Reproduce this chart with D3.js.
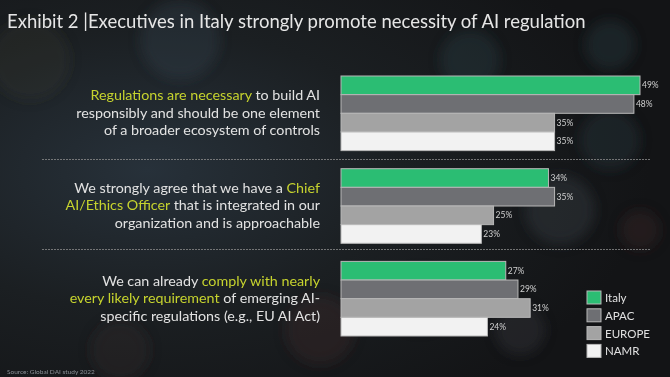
<!DOCTYPE html>
<html><head><meta charset="utf-8">
<script src="https://cdn.jsdelivr.net/npm/d3@7"></script>
<style>html,body{margin:0;padding:0;background:#16181a;}svg{display:block;}</style>
</head><body><svg id="c" width="670" height="377"></svg>
<script>
const title = "Exhibit 2 |Executives in Italy strongly promote necessity of AI regulation";
const source = "Source: Global DAI study 2022";
const categories = ["Regulations necessary", "Chief AI/Ethics Officer", "Comply with requirements"];
const seriesNames = ["Italy", "APAC", "EUROPE", "NAMR"];
const italy = [49, 34, 27];
const apac = [48, 35, 29];
const europe = [35, 25, 31];
const namr = [35, 23, 24];
const seriesColors = ["#2bbd73", "#6e6f73", "#a3a3a3", "#f2f2f2"];
// label lines: [text, highlighted?]
const labelLines = [
  [[["Regulations are necessary", true], [" to build AI", false]],
   [["responsibly and should be one element", false]],
   [["of a broader ecosystem of controls", false]]],
  [[["We strongly agree that we have a ", false], ["Chief", true]],
   [["AI/Ethics Officer", true], [" that is integrated in our", false]],
   [["organization and is approachable", false]]],
  [[["We can already ", false], ["comply with nearly", true]],
   [["every likely requirement", true], [" of emerging AI-", false]],
   [["specific regulations (e.g., EU AI Act)", false]]]
];
const values = [italy, apac, europe, namr];

const svg = d3.select("#c");
const W = 670, H = 377;
const defs = svg.append("defs");
const bg = defs.append("radialGradient").attr("id","bg").attr("cx","22%").attr("cy","45%").attr("r","75%");
bg.append("stop").attr("offset","0%").attr("stop-color","#27313a");
bg.append("stop").attr("offset","50%").attr("stop-color","#1b1f22");
bg.append("stop").attr("offset","100%").attr("stop-color","#131416");
svg.append("rect").attr("width",W).attr("height",H).attr("fill","url(#bg)");
const blur = defs.append("filter").attr("id","blur").attr("x","-50%").attr("y","-50%").attr("width","200%").attr("height","200%");
blur.append("feGaussianBlur").attr("stdDeviation",6);
// decorative bokeh
const bokeh = [[180,40,40,"#3a4a55",0.3],[470,60,30,"#2f4550",0.3],[610,45,25,"#2f4550",0.3],[560,210,35,"#333a40",0.45],[610,140,30,"#2e3a44",0.35],[320,330,35,"#4a3030",0.3],[420,300,30,"#3a4a50",0.35],[120,350,30,"#3a2a2a",0.3],[640,230,20,"#4a2a2a",0.3],[30,60,40,"#3a3a2a",0.25],[520,330,25,"#3a3f45",0.35]];
svg.append("g").attr("filter","url(#blur)").selectAll("circle").data(bokeh).join("circle")
  .attr("cx",d=>d[0]).attr("cy",d=>d[1]).attr("r",d=>d[2]).attr("fill",d=>d[3]).attr("opacity",d=>d[4]);

svg.append("text").attr("x",7).attr("y",28).attr("fill","#e6e6e6")
  .attr("font-family","Lato").attr("font-size",18.5).text(title);

const x = d3.scaleLinear().domain([0, 49]).range([341, 640]);
const gy = d3.scaleBand().domain(d3.range(categories.length)).range([76, 336]).paddingInner(0.195).paddingOuter(0);
const by = d3.scaleBand().domain(d3.range(seriesNames.length)).range([0, gy.bandwidth()]);

// separators
svg.append("g").selectAll("line").data([159.5, 249.5]).join("line")
  .attr("x1",42).attr("x2",650).attr("y1",d=>d).attr("y2",d=>d)
  .attr("stroke","#8a8a8a").attr("stroke-width",1.2).attr("stroke-dasharray","2,1").attr("opacity",0.8);

const groups = svg.append("g").selectAll("g").data(categories).join("g")
  .attr("transform",(d,i)=>`translate(0,${gy(i)})`);
groups.each(function(cat, ci){
  const g = d3.select(this);
  seriesNames.forEach((s, si) => {
    const v = values[si][ci];
    g.append("rect").attr("x",x(0)).attr("y",by(si)).attr("width",x(v)-x(0)).attr("height",by.bandwidth())
      .attr("fill",seriesColors[si]).attr("stroke","#b8b8b8").attr("stroke-width",1);
    g.append("text").attr("x",x(v)+2).attr("y",by(si)+by.bandwidth()/2+3)
      .attr("fill","#d0d0d0").attr("font-family","Lato").attr("font-size",8.5).text(v+"%");
  });
  const lines = labelLines[ci];
  lines.forEach((segs, li) => {
    const t = g.append("text").attr("x",320).attr("y",gy.bandwidth()/2 - 13 + li*17.5)
      .attr("text-anchor","end").attr("font-family","Lato").attr("font-size",14.3);
    segs.forEach(sg => t.append("tspan").attr("fill", sg[1] ? "#c6d32e" : "#e2e2e2").text(sg[0]));
  });
});

// legend
const lg = svg.append("g").attr("transform","translate(587,291)");
const li = lg.selectAll("g").data(seriesNames).join("g").attr("transform",(d,i)=>`translate(0,${i*17.8})`);
li.append("rect").attr("width",14).attr("height",13).attr("fill",(d,i)=>seriesColors[i]).attr("stroke","#b8b8b8").attr("stroke-width",1);
li.append("text").attr("x",18).attr("y",11).attr("fill","#e0e0e0").attr("font-family","Lato").attr("font-size",11.5).text(d=>d);

svg.append("text").attr("x",7).attr("y",374).attr("fill","#8a9096").attr("font-family","Lato").attr("font-size",6.5).text(source);
</script></body></html>
